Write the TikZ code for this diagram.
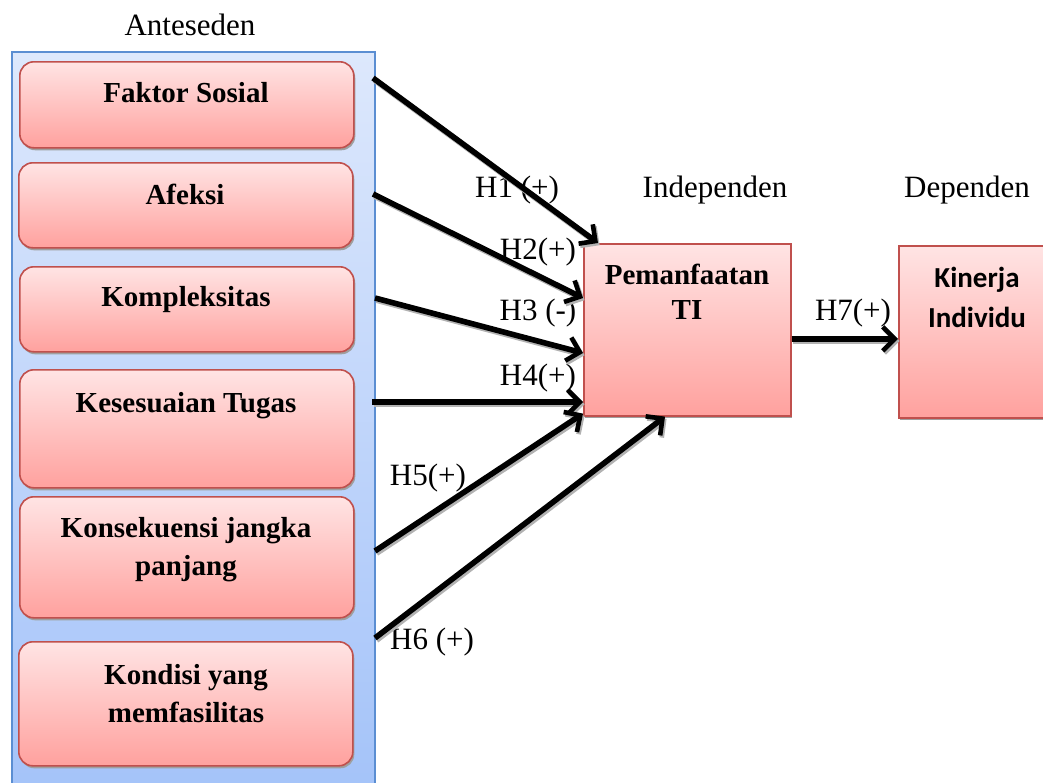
\documentclass[tikz,border=0pt]{standalone}
\usepackage{fontspec}
\setmainfont{Liberation Serif}
\newfontfamily\carlito{Carlito}
\usetikzlibrary{arrows.meta,calc,shadows}
\definecolor{redtop}{HTML}{FFE4E4}
\definecolor{redbot}{HTML}{FFA19E}
\definecolor{redline}{HTML}{C0504D}
\definecolor{bluetop}{HTML}{DDE8FC}
\definecolor{bluebot}{HTML}{A4C3F9}
\definecolor{blueline}{HTML}{5B8ED2}
\begin{document}
\begin{tikzpicture}[x=1pt,y=-1pt,
  redbox/.style={draw=redline, line width=1.6pt, top color=redtop, bottom color=redbot,
    anchor=north west, inner sep=0pt,
    drop shadow={shadow xshift=1.5pt, shadow yshift=-2.5pt, fill=gray!75, opacity=1}},
  roundbox/.style={redbox, rounded corners=14pt, minimum width=334pt},
  boxtext/.style={font=\fontsize{29}{38}\selectfont\bfseries, align=center, inner sep=0pt},
  lbl/.style={font=\fontsize{31}{36}\selectfont, inner sep=0pt},
  arr/.style={line width=5.6pt, -{Straight Barb[length=12pt,width=24pt,line width=4.6pt]}},
  arrshadow/.style={arr, draw=gray!60, transform canvas={shift={(1.6pt,-2.2pt)}}}
]
\useasboundingbox (0,0) rectangle (1043,782);
% container
\path[draw=blueline, line width=1.3pt, top color=bluetop, bottom color=bluebot]
  (12,52) rectangle (375,792);
\node[lbl] (ant) at (190,25) {Anteseden};
% antecedent boxes
\node[roundbox, minimum height=86pt] (b1) at (19,61) {};
\node[roundbox, minimum height=85pt] (b2) at (18,162) {};
\node[roundbox, minimum height=85pt] (b3) at (19,266) {};
\node[roundbox, minimum height=118pt] (b4) at (19,369) {};
\node[roundbox, minimum height=121pt] (b5) at (19,496) {};
\node[roundbox, minimum height=124pt] (b6) at (18,641) {};
\node[boxtext] (t1) at (186,93) {Faktor Sosial};
\node[boxtext] (t2) at (185,194) {Afeksi};
\node[boxtext] (t3) at (186,300) {Kompleksitas};
\node[boxtext] (t4) at (186,406) {Kesesuaian Tugas};
\node[boxtext] (t5) at (186,550) {Konsekuensi jangka\\panjang};
\node[boxtext] (t6) at (186,694) {Kondisi yang\\memfasilitas};
% main boxes
\node[redbox, minimum width=207pt, minimum height=172pt] (pt) at (583,243) {};
\node[boxtext, font=\fontsize{29}{35}\selectfont\bfseries] (ptt) at (687,292) {Pemanfaatan\\TI};
\node[redbox, minimum width=160pt, minimum height=172pt] (ki) at (898,245) {};
\node[boxtext, font=\fontsize{29}{40}\selectfont\carlito\bfseries] (kit) at (977,297) {Kinerja\\Individu};
% labels
\node[lbl] (ind) at (715,190) {Independen};
\node[lbl] (dep) at (967,190) {Dependen};
\node[lbl] (h1) at (517,190) {H1 (+)};
\node[lbl] (h2) at (538,252) {H2(+)};
\node[lbl] (h3) at (538,313) {H3 (-)};
\node[lbl] (h4) at (538,378) {H4(+)};
\node[lbl] (h5) at (428,478) {H5(+)};
\node[lbl] (h6) at (432,642) {H6 (+)};
\node[lbl] (h7) at (853,313) {H7(+)};
% arrow start points
\coordinate (s1) at (373,78);
\coordinate (s2) at (373,194);
\coordinate (s3) at (375,298);
\coordinate (s4) at (372,402);
\coordinate (s5) at (375,551);
\coordinate (s6) at (375,638);
\coordinate (e1) at ($(pt.north west)+(15,0)$);
\coordinate (e2) at ($(pt.north west)+(0,55)$);
\coordinate (e3) at ($(pt.north west)+(0,110)$);
\coordinate (e4) at ($(pt.north west)+(0,159)$);
\coordinate (e5) at ($(pt.south west)+(0,-3)$);
\coordinate (e6) at ($(pt.south west)+(82,0)$);
\coordinate (s7) at ($(pt.east)+(0,9)$);
\coordinate (e7) at ($(ki.west)+(0,7)$);
\foreach \i in {1,...,7} {
  \draw[arrshadow] (s\i) -- (e\i);
  \draw[arr] (s\i) -- (e\i);
}
\end{tikzpicture}
\end{document}
